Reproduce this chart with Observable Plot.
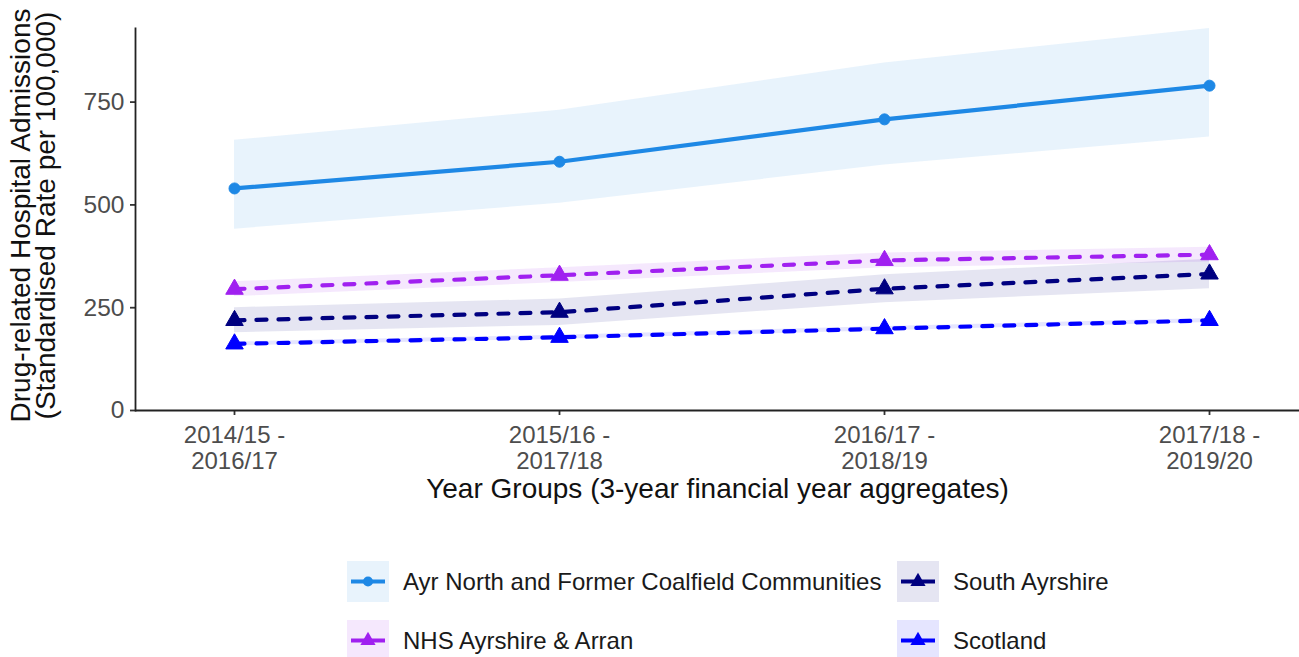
<!DOCTYPE html>
<html><head><meta charset="utf-8">
<script src="https://cdn.jsdelivr.net/npm/d3@7"></script>
<script src="https://cdn.jsdelivr.net/npm/@observablehq/plot@0.6"></script>
<style>
body{margin:0;background:#fff;font-family:"Liberation Sans",Arial,sans-serif;}
#chart svg{display:block;overflow:visible}
#legend{position:relative;width:1299px;height:117px}
.item{position:absolute;display:flex;align-items:center;height:41px}
.item svg{display:block;margin-right:14px}
.item span{font-size:24px;color:#1a1a1a;white-space:nowrap}
</style></head><body>
<div id="chart"></div>
<div id="legend"></div>
<script>
// ---- data ----
const yearGroups = ["2014/15 - 2016/17", "2015/16 - 2017/18", "2016/17 - 2018/19", "2017/18 - 2019/20"];
const seriesNames = ["Ayr North and Former Coalfield Communities", "NHS Ayrshire & Arran", "South Ayrshire", "Scotland"];
const ayrRate  = [540, 605, 708, 790];
const ayrLower = [441, 504, 597, 665];
const ayrUpper = [657, 730, 845, 929];
const nhsRate  = [295, 329, 365, 379];
const nhsLower = [277, 311, 347, 361];
const nhsUpper = [313, 347, 383, 397];
const southRate  = [219, 239, 296, 332];
const southLower = [189, 207, 262, 296];
const southUpper = [250, 271, 330, 368];
const scotRate  = [162, 178, 199, 219];
const scotLower = [157, 173, 194, 214];
const scotUpper = [167, 183, 204, 224];
const yTicks = [0, 250, 500, 750];
const colors = ["#1E88E5", "#A020F0", "#000080", "#0000FF"];
const symbols = ["circle", "triangle", "triangle", "triangle"];
const dashed = [false, true, true, true];

const seriesData = [
  [ayrRate, ayrLower, ayrUpper],
  [nhsRate, nhsLower, nhsUpper],
  [southRate, southLower, southUpper],
  [scotRate, scotLower, scotUpper]
];
const rows = [];
seriesNames.forEach((s, i) => {
  const [r, lo, hi] = seriesData[i];
  yearGroups.forEach((g, j) => rows.push({series: s, group: g, rate: r[j], lower: lo[j], upper: hi[j]}));
});

const lineMarks = seriesNames.map((s, i) =>
  Plot.line(rows.filter(d => d.series === s), {
    x: "group", y: "rate", stroke: colors[i], strokeWidth: 4.2,
    strokeDasharray: dashed[i] ? "10,12" : null
  })
);
const dotMarks = seriesNames.map((s, i) =>
  Plot.dot(rows.filter(d => d.series === s), {
    x: "group", y: "rate", symbol: symbols[i], fill: colors[i], stroke: colors[i],
    r: symbols[i] === "circle" ? 5.5 : 6.5, strokeWidth: 1
  })
);

const chart = Plot.plot({
  width: 1299, height: 540,
  marginLeft: 135, marginRight: 0, marginTop: 28, marginBottom: 130,
  style: {fontFamily: "Liberation Sans, Arial, sans-serif", background: "#fff"},
  x: {type: "point", domain: yearGroups, range: [233, 1210], padding: 0},
  y: {domain: [0, 929]},
  color: {domain: seriesNames, range: colors},
  marks: [
    Plot.areaY(rows, {x: "group", y1: "lower", y2: "upper", z: "series", fill: "series", fillOpacity: 0.1}),
    ...lineMarks,
    ...dotMarks,
    Plot.axisY(yTicks, {tickSize: 5, tickPadding: 6, fontSize: 24.5, color: "#4D4D4D", stroke: "#333", strokeWidth: 1.8, label: null}),
    Plot.axisX(yearGroups, {tickSize: 5, tickPadding: 8, fontSize: 24, color: "#4D4D4D", stroke: "#333", strokeWidth: 1.8, label: null, lineHeight: 1.12,
      tickFormat: d => d.replace(" - ", " -\n")}),
    Plot.ruleY([0], {stroke: "#222", strokeWidth: 1.8}),
    Plot.frame({anchor: "left", stroke: "#222", strokeWidth: 1.8}),
    Plot.text(["Year Groups (3-year financial year aggregates)"], {frameAnchor: "bottom", dy: 87, fontSize: 28, fill: "#111"}),
    Plot.text(["Drug-related Hospital Admissions\n(Standardised Rate per 100,000)"], {frameAnchor: "left", textAnchor: "middle", lineAnchor: "middle", dx: -101, dy: -4, rotate: -90, fontSize: 28, lineHeight: 0.88, fill: "#111"})
  ]
});
document.getElementById("chart").append(chart);

// ---- legend ----
const legendPos = [[347, 21], [347, 80], [897, 21], [897, 80]];
const legend = d3.select("#legend");
seriesNames.forEach((s, i) => {
  const item = legend.append("div").attr("class", "item")
    .style("left", legendPos[i][0] + "px").style("top", legendPos[i][1] + "px");
  const svg = item.append("svg").attr("width", 42).attr("height", 41);
  svg.append("rect").attr("width", 42).attr("height", 41).attr("fill", colors[i]).attr("fill-opacity", 0.1);
  svg.append("line").attr("x1", 4).attr("x2", 38).attr("y1", 20.5).attr("y2", 20.5)
    .attr("stroke", colors[i]).attr("stroke-width", 4);
  const sym = d3.symbol().type(symbols[i] === "circle" ? d3.symbolCircle : d3.symbolTriangle).size(symbols[i] === "circle" ? 80 : 100);
  svg.append("path").attr("d", sym()).attr("transform", "translate(21,20.5)").attr("fill", colors[i]);
  item.append("span").text(s);
});
</script>
</body></html>
